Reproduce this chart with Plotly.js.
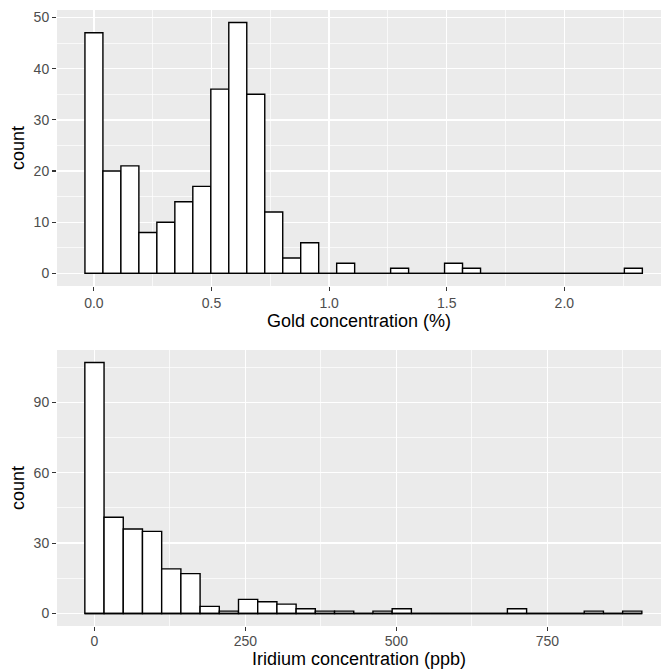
<!DOCTYPE html>
<html>
<head>
<meta charset="utf-8">
<script src="https://cdn.plot.ly/plotly-3.0.1.min.js"></script>
<style>html,body{margin:0;padding:0;background:#fff;}#chart{width:661px;height:670px;}</style>
</head>
<body>
<div id="chart"></div>
<script>
// Gold concentration (%) histogram: bin centers and counts
const goldBinWidth = 0.07645;
const goldBins = [0, 0.0765, 0.1529, 0.2294, 0.3058, 0.3823, 0.4587, 0.5352, 0.6116, 0.6881,
  0.7645, 0.8410, 0.9174, 0.9939, 1.0703, 1.1468, 1.2232, 1.2997, 1.3761, 1.4526,
  1.5290, 1.6055, 1.6819, 1.7584, 1.8348, 1.9113, 1.9877, 2.0642, 2.1406, 2.2171, 2.2935];
const goldCounts = [47, 20, 21, 8, 10, 14, 17, 36, 49, 35,
  12, 3, 6, 0, 2, 0, 0, 1, 0, 0,
  2, 1, 0, 0, 0, 0, 0, 0, 0, 0, 1];

// Iridium concentration (ppb) histogram: bin centers and counts
const iridiumBinWidth = 31.8;
const iridiumBins = [0, 31.8, 63.6, 95.4, 127.2, 159, 190.8, 222.6, 254.4, 286.2,
  318, 349.8, 381.6, 413.4, 445.2, 477, 508.8, 540.6, 572.4, 604.2,
  636, 667.8, 699.6, 731.4, 763.2, 795, 826.8, 858.6, 890.4];
const iridiumCounts = [107, 41, 36, 35, 19, 17, 3, 1, 6, 5,
  4, 2, 1, 1, 0, 1, 2, 0, 0, 0,
  0, 0, 2, 0, 0, 0, 1, 0, 1];

const goldTicks = [0, 0.5, 1.0, 1.5, 2.0];
const goldTickLabels = ['0.0', '0.5', '1.0', '1.5', '2.0'];
const iridiumTicks = [0, 250, 500, 750];
const iridiumTickLabels = ['0', '250', '500', '750'];

const FONT = 'Liberation Sans, Arial, Helvetica, sans-serif';

function histTraces(bins, counts, w, xa, ya) {
  const bars = {
    type: 'bar', x: bins, y: counts, width: bins.map(() => w),
    marker: {color: '#FFFFFF', line: {color: '#000000', width: 1.4}},
    xaxis: xa, yaxis: ya, hoverinfo: 'x+y', showlegend: false
  };
  const base = {
    type: 'scatter', mode: 'lines',
    x: [bins[0] - w / 2, bins[bins.length - 1] + w / 2], y: [0, 0],
    line: {color: '#000000', width: 1.4},
    xaxis: xa, yaxis: ya, hoverinfo: 'skip', showlegend: false
  };
  return [bars, base];
}

const data = [
  ...histTraces(goldBins, goldCounts, goldBinWidth, 'x', 'y'),
  ...histTraces(iridiumBins, iridiumCounts, iridiumBinWidth, 'x2', 'y2')
];

const tickFont = {family: FONT, size: 14, color: '#4D4D4D'};
const titleFont = {family: FONT, size: 18, color: '#000000'};

function xAxis(range, tickvals, ticktext, minorD, title, anchor, standoff) {
  return {
    domain: [0, 1], anchor: anchor, range: range,
    tickmode: 'array', tickvals: tickvals, ticktext: ticktext,
    ticks: 'outside', ticklen: 4, tickwidth: 1.1, tickcolor: '#333333',
    tickfont: tickFont, showgrid: true, gridcolor: '#FFFFFF', gridwidth: 1.4,
    minor: {dtick: minorD, tick0: 0, showgrid: true, gridcolor: '#FFFFFF', gridwidth: 0.7, ticks: ''},
    zeroline: false, showline: false, fixedrange: true,
    title: {text: title, font: titleFont, standoff: standoff}
  };
}
function yAxis(range, dtick, domain, anchor) {
  return {
    domain: domain, anchor: anchor, range: range,
    tick0: 0, dtick: dtick,
    ticks: 'outside', ticklen: 4, tickwidth: 1.1, tickcolor: '#333333',
    tickfont: tickFont, showgrid: true, gridcolor: '#FFFFFF', gridwidth: 1.4,
    minor: {dtick: dtick / 2, tick0: 0, showgrid: true, gridcolor: '#FFFFFF', gridwidth: 0.7, ticks: ''},
    zeroline: false, showline: false, fixedrange: true,
    title: {text: 'count', font: titleFont, standoff: 4}
  };
}

const layout = {
  width: 661, height: 670,
  margin: {l: 57, r: 0, t: 10, b: 44, pad: 0},
  paper_bgcolor: '#FFFFFF', plot_bgcolor: '#EBEBEB',
  showlegend: false, bargap: 0,
  font: {family: FONT},
  xaxis: xAxis([-0.157, 2.411], goldTicks, goldTickLabels, 0.25, 'Gold concentration (%)', 'y', 2),
  yaxis: yAxis([-2.45, 51.45], 10, [0.552, 1], 'x'),
  xaxis2: xAxis([-62, 938], iridiumTicks, iridiumTickLabels, 125, 'Iridium concentration (ppb)', 'y2', 4),
  yaxis2: yAxis([-5.35, 112.35], 30, [0, 0.448], 'x2')
};
layout.xaxis2.ticklabelstandoff = -2;

Plotly.newPlot('chart', data, layout, {displayModeBar: false, staticPlot: true});
</script>
</body>
</html>
